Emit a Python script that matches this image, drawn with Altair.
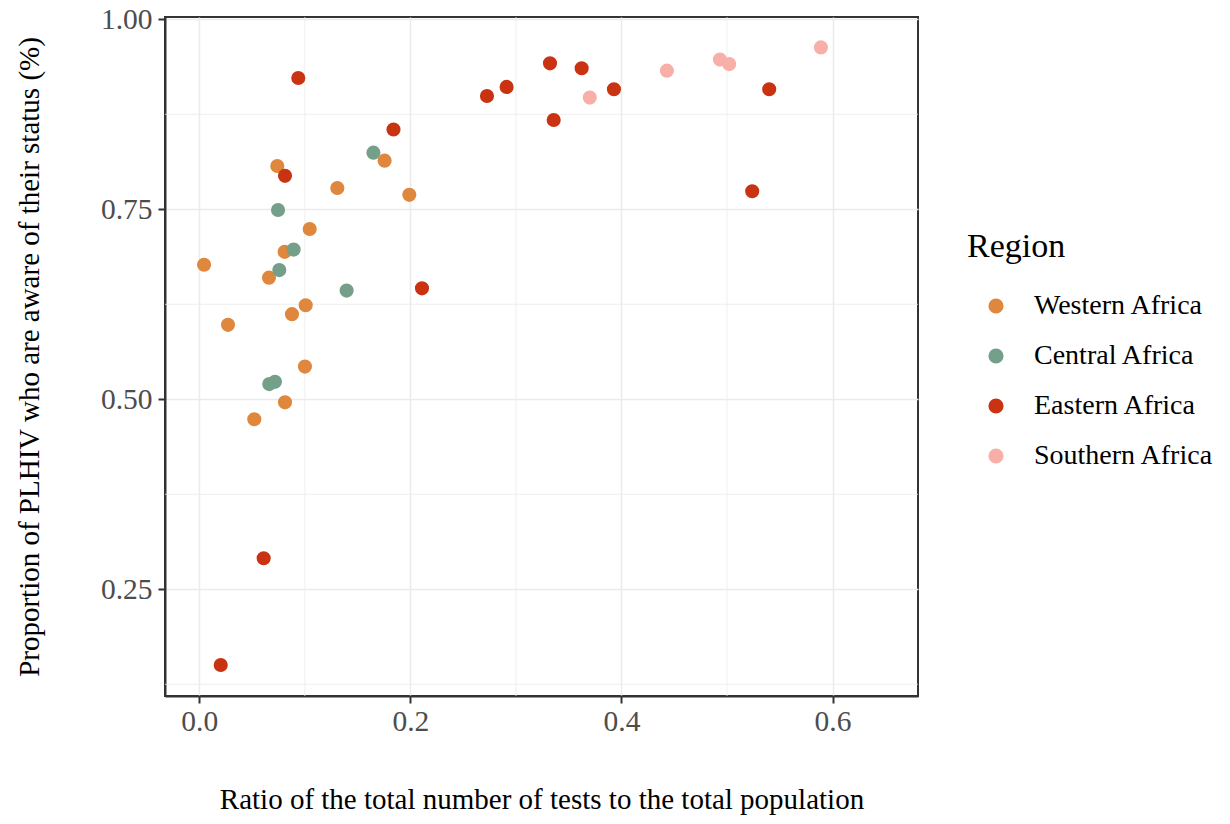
import altair as alt
import pandas as pd

regions_order = ["Western Africa", "Central Africa", "Eastern Africa", "Southern Africa"]
region_colors = ["#DE873D", "#74A089", "#C93312", "#F8AFA8"]

west_x = [0.0739, 0.1308, 0.199, 0.1756, 0.1046, 0.0809, 0.0045, 0.066, 0.1008, 0.0878, 0.0272, 0.1001, 0.0812, 0.0521]
west_y = [0.807, 0.778, 0.769, 0.814, 0.724, 0.694, 0.677, 0.660, 0.6237, 0.612, 0.598, 0.543, 0.496, 0.4737]
central_x = [0.165, 0.0746, 0.0894, 0.0758, 0.1396, 0.0663, 0.0717]
central_y = [0.8245, 0.749, 0.697, 0.670, 0.643, 0.520, 0.523]
east_x = [0.0938, 0.184, 0.0812, 0.211, 0.061, 0.0203, 0.2726, 0.2912, 0.3323, 0.3623, 0.3358, 0.3929, 0.540, 0.5239]
east_y = [0.9228, 0.855, 0.794, 0.646, 0.2908, 0.1504, 0.899, 0.911, 0.942, 0.9355, 0.8675, 0.908, 0.908, 0.7737]
south_x = [0.370, 0.4431, 0.4933, 0.5021, 0.589]
south_y = [0.897, 0.9324, 0.947, 0.941, 0.963]

x_ticks = [0.0, 0.2, 0.4, 0.6]
y_ticks = [0.25, 0.50, 0.75, 1.00]
x_minor = [0.1, 0.3, 0.5]
y_minor = [0.125, 0.375, 0.625, 0.875]

rows = []
for name, xs, ys in [("Western Africa", west_x, west_y), ("Central Africa", central_x, central_y),
                     ("Eastern Africa", east_x, east_y), ("Southern Africa", south_x, south_y)]:
    for a, b in zip(xs, ys):
        rows.append({"Region": name, "ratio": a, "aware": b})
df = pd.DataFrame(rows)

FONT = "Liberation Serif"
xdom = [-0.0325, 0.681]
ydom = [0.1096, 1.003]

xscale = alt.Scale(domain=xdom, nice=False, zero=False)
yscale = alt.Scale(domain=ydom, nice=False, zero=False)

xminor = alt.Chart(pd.DataFrame({"v": x_minor})).mark_rule(color="#EBEBEB", strokeWidth=0.8).encode(
    x=alt.X("v:Q", scale=xscale))
yminor = alt.Chart(pd.DataFrame({"v": y_minor})).mark_rule(color="#EBEBEB", strokeWidth=0.8).encode(
    y=alt.Y("v:Q", scale=yscale))

points = alt.Chart(df).mark_circle(size=200, opacity=1).encode(
    x=alt.X("ratio:Q", scale=xscale,
            title="Ratio of the total number of tests to the total population",
            axis=alt.Axis(values=x_ticks, format=".1f", labelPadding=4, titlePadding=50)),
    y=alt.Y("aware:Q", scale=yscale,
            title="Proportion of PLHIV who are aware of their status (%)",
            axis=alt.Axis(values=y_ticks, format=".2f", labelPadding=6, titlePadding=56)),
    color=alt.Color("Region:N", scale=alt.Scale(domain=regions_order, range=region_colors),
                    legend=alt.Legend(title="Region", orient="none", legendX=802, legendY=213)),
)

chart = alt.layer(xminor, yminor, points).properties(
    width=753, height=679,
    autosize=alt.AutoSizeParams(type="none"),
    padding={"left": 157, "top": 9, "right": 304, "bottom": 120},
).configure_view(
    stroke="#333333", strokeWidth=2
).configure_axis(
    labelFont=FONT, titleFont=FONT, labelFontSize=29.5, titleFontSize=29,
    labelColor="#4D4D4D", titleColor="#000000", titleFontWeight="normal",
    gridColor="#EBEBEB", gridWidth=1.5, domainColor="#333333", domainWidth=2,
    tickColor="#333333", tickWidth=2, tickSize=7,
).configure_legend(
    titleFont=FONT, labelFont=FONT, titleFontSize=34, labelFontSize=28,
    titleFontWeight="normal", titleColor="#000000", labelColor="#000000",
    symbolSize=230, symbolType="circle", symbolOffset=15, labelOffset=24,
    rowPadding=22, titlePadding=28, labelLimit=400,
)

chart.save("out.html", embed_options={"renderer": "svg", "actions": False})
